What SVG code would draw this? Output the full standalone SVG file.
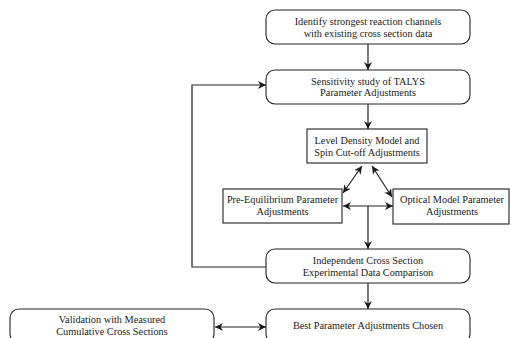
<svg xmlns="http://www.w3.org/2000/svg" width="511" height="338" viewBox="0 0 511 338">
<defs>
<marker id="ah" viewBox="0 0 10 10" refX="10" refY="5" markerWidth="8" markerHeight="8" orient="auto-start-reverse" markerUnits="userSpaceOnUse">
<path d="M0,0 L10,5 L0,10 L3,5 z" fill="#1a1a1a"/>
</marker>
<style>
.b{fill:#fff;stroke:#222;stroke-width:1.1}
.t{font-family:"Liberation Serif","DejaVu Serif",serif;font-size:10.3px;fill:#1a1a1a;text-anchor:middle}
.c{fill:none;stroke:#222;stroke-width:1.2}
</style>
</defs>
<rect width="511" height="338" fill="#fff"/>
<g id="connectors">
<path class="c" d="M368,44 V70" marker-end="url(#ah)"/>
<path class="c" d="M368,104 V129" marker-end="url(#ah)"/>
<path class="c" d="M362,166 L343,193" marker-start="url(#ah)" marker-end="url(#ah)"/>
<path class="c" d="M372,166 L392,197" marker-start="url(#ah)" marker-end="url(#ah)"/>
<path class="c" d="M343,206 H393" marker-start="url(#ah)" marker-end="url(#ah)"/>
<path class="c" d="M368,206 V249" marker-end="url(#ah)"/>
<path class="c" d="M368,283 V309" marker-end="url(#ah)"/>
<path class="c" d="M266,267 H192 V85 H266" marker-end="url(#ah)"/>
<path class="c" d="M215,327 H266" marker-start="url(#ah)" marker-end="url(#ah)"/>
</g>
<g id="n1"><rect class="b" x="266" y="10" width="204" height="34" rx="9"/>
<text class="t" x="368" y="24.5">Identify strongest reaction channels</text>
<text class="t" x="368" y="36.5">with existing cross section data</text></g>
<g id="n2"><rect class="b" x="266" y="70" width="204" height="34" rx="9"/>
<text class="t" x="368" y="84.5">Sensitivity study of TALYS</text>
<text class="t" x="368" y="95.5">Parameter Adjustments</text></g>
<g id="n3"><rect class="b" x="307" y="129" width="120" height="34"/>
<text class="t" x="367" y="143.5">Level Density Model and</text>
<text class="t" x="367" y="155.5">Spin Cut-off Adjustments</text></g>
<g id="n4"><rect class="b" x="223" y="189" width="119" height="34"/>
<text class="t" x="282.5" y="203">Pre-Equilibrium Parameter</text>
<text class="t" x="282.5" y="215">Adjustments</text></g>
<g id="n5"><rect class="b" x="393" y="189" width="116" height="35"/>
<text class="t" x="452" y="203">Optical Model Parameter</text>
<text class="t" x="452" y="215">Adjustments</text></g>
<g id="n6"><rect class="b" x="266" y="249" width="204" height="34" rx="9"/>
<text class="t" x="368" y="263.5">Independent Cross Section</text>
<text class="t" x="368" y="275.5">Experimental Data Comparison</text></g>
<g id="n7"><rect class="b" x="266" y="309" width="204" height="34" rx="9"/>
<text class="t" x="368" y="328.5">Best Parameter Adjustments Chosen</text></g>
<g id="n8"><rect class="b" x="10" y="309" width="204" height="34" rx="9"/>
<text class="t" x="112" y="322.5">Validation with Measured</text>
<text class="t" x="112" y="334.5">Cumulative Cross Sections</text></g>
</svg>
